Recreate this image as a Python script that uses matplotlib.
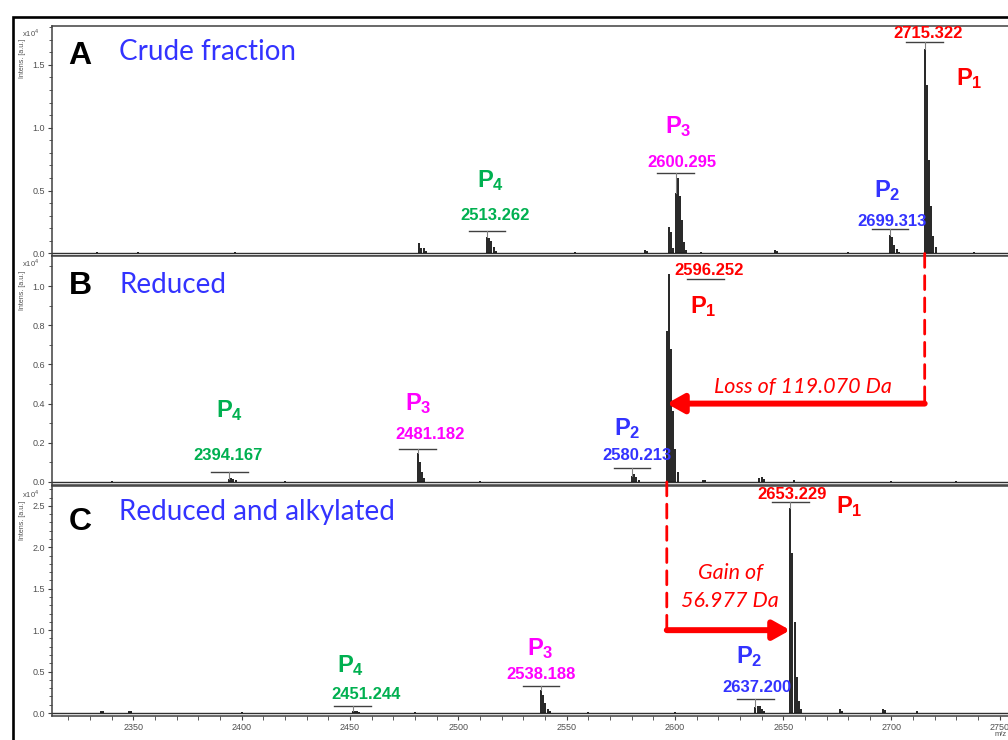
import matplotlib.pyplot as plt
from matplotlib.patches import Rectangle, ConnectionPatch
from matplotlib.ticker import MultipleLocator, FormatStrFormatter

plt.rcParams["mathtext.fontset"] = "custom"
plt.rcParams["mathtext.bf"] = "Liberation Sans:bold"
plt.rcParams["mathtext.rm"] = "Liberation Sans"

RED, MAGENTA, GREEN, BLUE = "#FF0000", "#FF00FF", "#00B050", "#3333FF"
P_COLORS = [RED, BLUE, MAGENTA, GREEN]          # P1, P2, P3, P4
ISO_STEP = 1.0                                  # isotope spacing (Da)

# ── Spectra: labelled monoisotopic m/z (P1..P4) and isotope intensities (x10^4) ──
A_MZ = [2715.322, 2699.313, 2600.295, 2513.262]
A_ISO = [[1.63, 1.34, 0.74, 0.38, 0.14, 0.05],
         [0.15, 0.13, 0.07, 0.035, 0.015],
         [0.48, 0.60, 0.46, 0.27, 0.09, 0.03],
         [0.13, 0.12, 0.10, 0.05, 0.02]]
A_MINOR_MZ = [2333, 2352, 2397, 2482.0, 2483.0, 2484.0, 2485.0, 2554, 2586, 2587,
              2597.3, 2598.3, 2599.3, 2612, 2646, 2647, 2680, 2738]
A_MINOR_INT = [0.01, 0.01, 0.01, 0.08, 0.045, 0.04, 0.02, 0.015, 0.03, 0.02,
               0.21, 0.17, 0.04, 0.015, 0.03, 0.02, 0.01, 0.015]

B_MZ = [2596.252, 2580.213, 2481.182, 2394.167]
B_ISO = [[0.77, 1.06, 0.68, 0.36, 0.17, 0.05],
         [0.03, 0.04, 0.025, 0.01],
         [0.15, 0.10, 0.05, 0.02],
         [0.015, 0.02, 0.015, 0.008]]
B_MINOR_MZ = [2340, 2420, 2510, 2613, 2614, 2639, 2640, 2641, 2655, 2700, 2730]
B_MINOR_INT = [0.006, 0.006, 0.006, 0.012, 0.01, 0.02, 0.025, 0.015, 0.01, 0.006, 0.006]

C_MZ = [2653.229, 2637.200, 2538.188, 2451.244]
C_ISO = [[2.48, 1.93, 1.10, 0.43, 0.15, 0.05],
         [0.07, 0.09, 0.08, 0.05, 0.02],
         [0.28, 0.22, 0.12, 0.05, 0.02],
         [0.02, 0.03, 0.02, 0.01]]
C_MINOR_MZ = [2335, 2336, 2348, 2349, 2400, 2480, 2560, 2600, 2676, 2677, 2696, 2697, 2712]
C_MINOR_INT = [0.03, 0.02, 0.03, 0.02, 0.01, 0.01, 0.01, 0.01, 0.05, 0.03, 0.05, 0.04, 0.02]

LOSS_DA = 119.070
GAIN_DA = 56.977

# ── Layout (m/z / intensity coordinates of annotations) ──
A_BAR_Y = [1.68, 0.198, 0.643, 0.175]
A_TXT = [(2716.8, 1.746), (2700.2, 0.254), (2603.2, 0.722), (2516.9, 0.302)]
A_P = [(2729.7, 1.341), (2691.9, 0.452), (2595.4, 0.960), (2508.6, 0.524)]

B_BAR_Y = [1.036, 0.071, 0.168, 0.051]
B_BAR_SHIFT = [18.0, 0.0, 0.0, 0.0]
B_TXT = [(2615.7, 1.077), (2582.5, 0.133), (2486.9, 0.240), (2393.6, 0.133)]
B_P = [(2606.9, 0.862), (2571.8, 0.240), (2475.3, 0.367), (2388.1, 0.332)]

C_BAR_Y = [2.548, 0.169, 0.326, 0.085]
C_TXT = [(2654.0, 2.633), (2637.9, 0.314), (2538.1, 0.459), (2457.4, 0.22)]
C_P = [(2674.3, 2.415), (2628.2, 0.604), (2531.7, 0.70), (2443.9, 0.495)]

W, H = 1008, 740
XLIM = (2312.4, 2756.1)


def fx(px):
    return px / W


def fy(py):
    return 1 - py / H


def draw_spectrum(ax, mz_list, iso_list, minor_mz, minor_int):
    mz, inten = [], []
    for m0, iso in zip(mz_list, iso_list):
        for k, h in enumerate(iso):
            mz.append(m0 + k * ISO_STEP)
            inten.append(h)
    mz += minor_mz
    inten += minor_int
    ax.axhline(0, color="#303030", lw=1.0, zorder=2)
    ax.vlines(mz, 0, inten, color="black", lw=1.2, zorder=3)


def label_peaks(ax, mz_list, iso_list, bar_y, txt, p_pos, shifts=None):
    shifts = shifts or [0.0] * len(mz_list)
    for i, (m0, iso) in enumerate(zip(mz_list, iso_list)):
        xc = m0 + shifts[i]
        ax.plot([xc - 8.5, xc + 8.5], [bar_y[i], bar_y[i]], color="#404040", lw=1.0, zorder=4)
        if shifts[i] == 0.0:
            ax.plot([m0, m0], [iso[0], bar_y[i]], color="#808080", lw=0.8, zorder=4)
        ax.text(txt[i][0], txt[i][1], f"{m0:.3f}", color=P_COLORS[i], ha="center",
                va="center", fontsize=12, fontweight="bold", family="Liberation Sans", zorder=5)
        ax.text(p_pos[i][0], p_pos[i][1], r"$\mathbf{P_%d}$" % (i + 1), color=P_COLORS[i],
                ha="left", va="baseline", fontsize=17, zorder=5)


def style_axis(ax, ylim, major, show_x):
    ax.set_xlim(*XLIM)
    ax.set_ylim(*ylim)
    for s in ax.spines.values():
        s.set_color("#404040")
        s.set_linewidth(1.1)
    ax.spines["right"].set_visible(False)
    ax.yaxis.set_major_locator(MultipleLocator(major))
    ax.yaxis.set_minor_locator(MultipleLocator(0.1))
    ax.yaxis.set_major_formatter(FormatStrFormatter("%.1f"))
    ax.tick_params(axis="y", which="both", direction="out", colors="#404040",
                   labelsize=6.5, labelcolor="#505050", pad=2)
    ax.tick_params(axis="y", which="major", length=3)
    ax.tick_params(axis="y", which="minor", length=2)
    if show_x:
        ax.xaxis.set_major_locator(MultipleLocator(50))
        ax.xaxis.set_minor_locator(MultipleLocator(10))
        ax.tick_params(axis="x", which="both", direction="out", colors="#404040",
                       labelsize=6.5, labelcolor="#505050", length=3, pad=2)
    else:
        ax.tick_params(axis="x", which="both", bottom=False, labelbottom=False)
    for lab in ax.get_xticklabels() + ax.get_yticklabels():
        lab.set_family("Liberation Sans")


fig = plt.figure(figsize=(W / 100, H / 100), dpi=100)

ax_a = fig.add_axes([fx(52), fy(255.5), fx(1013 - 52), (255.5 - 25.5) / H])
ax_b = fig.add_axes([fx(52), fy(484.5), fx(1013 - 52), (484.5 - 255.5) / H])
ax_c = fig.add_axes([fx(52), fy(716), fx(1013 - 52), (716 - 486) / H])

draw_spectrum(ax_a, A_MZ, A_ISO, A_MINOR_MZ, A_MINOR_INT)
draw_spectrum(ax_b, B_MZ, B_ISO, B_MINOR_MZ, B_MINOR_INT)
draw_spectrum(ax_c, C_MZ, C_ISO, C_MINOR_MZ, C_MINOR_INT)

label_peaks(ax_a, A_MZ, A_ISO, A_BAR_Y, A_TXT, A_P)
label_peaks(ax_b, B_MZ, B_ISO, B_BAR_Y, B_TXT, B_P, B_BAR_SHIFT)
label_peaks(ax_c, C_MZ, C_ISO, C_BAR_Y, C_TXT, C_P)

style_axis(ax_a, (-0.016, 1.813), 0.5, False)
style_axis(ax_b, (-0.013, 1.156), 0.2, False)
style_axis(ax_c, (-0.036, 2.74), 0.5, True)

# ── Mass shift arrows ──
arrow_kw = dict(arrowstyle="-|>,head_length=0.5,head_width=0.28", color=RED, lw=4.3,
                shrinkA=0, shrinkB=0, mutation_scale=20)
dash_kw = dict(color=RED, lw=2.0, linestyle=(0, (5, 3)))

y_loss, y_gain = 0.40, 1.0
fig.add_artist(ConnectionPatch(xyA=(A_MZ[0], 0), coordsA=ax_a.transData,
                               xyB=(A_MZ[0], y_loss), coordsB=ax_b.transData, **dash_kw))
ax_b.annotate("", xy=(B_MZ[0], y_loss), xytext=(A_MZ[0], y_loss), arrowprops=arrow_kw, zorder=6)
ax_b.text(2659.0, 0.485, f"Loss of {LOSS_DA:.3f} Da", color=RED, style="italic",
          family="Lato", fontsize=15.5, ha="center", va="center")

fig.add_artist(ConnectionPatch(xyA=(B_MZ[0], 0), coordsA=ax_b.transData,
                               xyB=(B_MZ[0], y_gain), coordsB=ax_c.transData, **dash_kw))
ax_c.annotate("", xy=(C_MZ[0], y_gain), xytext=(B_MZ[0], y_gain), arrowprops=arrow_kw, zorder=6)
ax_c.text(2625.5, 1.52, f"Gain of\n{GAIN_DA:.3f} Da", color=RED, style="italic",
          family="Lato", fontsize=15.5, ha="center", va="center", linespacing=1.45)

# ── Panel letters, titles and axis captions ──
for letter, title, ly, ty, cap_y, exp_y in [("A", "Crude fraction", 56, 52, 58, 33),
                                             ("B", "Reduced", 286, 285, 290, 263),
                                             ("C", "Reduced and alkylated", 522, 512, 520, 494)]:
    fig.text(fx(80), fy(ly), letter, fontsize=23, fontweight="bold", family="Liberation Sans",
             ha="center", va="center")
    fig.text(fx(119), fy(ty), title, fontsize=20, color=BLUE, family="Lato",
             ha="left", va="center")
    fig.text(fx(22), fy(cap_y), "Intens. [a.u.]", fontsize=5, rotation=90, color="#505050",
             family="Liberation Sans", ha="center", va="center")
    fig.text(fx(31), fy(exp_y), r"x10$^{4}$", fontsize=5.5, color="#505050",
             family="Liberation Sans", ha="center", va="center")

fig.text(fx(995), fy(735), "m/z", fontsize=5.5, color="#505050", family="Liberation Sans",
         ha="left", va="center")

# outer frame, open to the right and bottom
fig.add_artist(Rectangle((fx(13), fy(760)), fx(1100), (760 - 17) / H, fill=False,
                         edgecolor="black", lw=1.9, transform=fig.transFigure, clip_on=False))

fig.savefig("out.png", dpi=100)
